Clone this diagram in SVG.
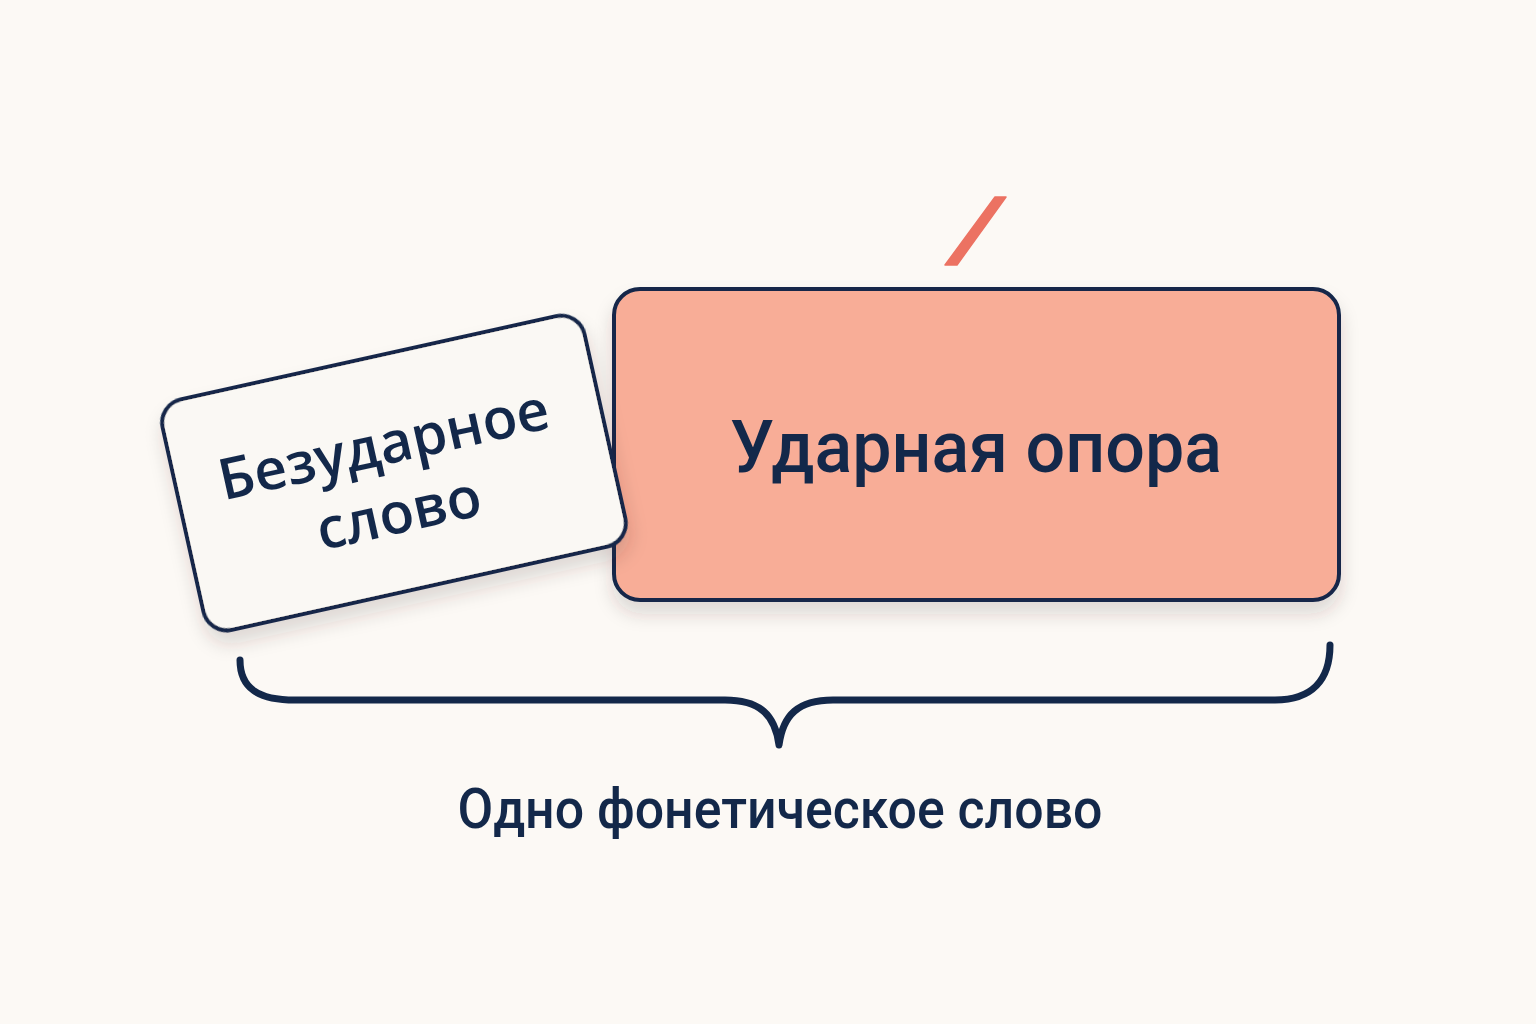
<svg xmlns="http://www.w3.org/2000/svg" width="1536" height="1024" viewBox="0 0 1536 1024">
<defs>
<filter id="sh" x="-20%" y="-20%" width="140%" height="160%">
<feDropShadow dx="0" dy="12" stdDeviation="9" flood-color="#3a3530" flood-opacity="0.16"/>
</filter>
<style>
.box{stroke:#13284a;stroke-width:4}
.lbl{fill:#13284a}
</style>
</defs>
<rect width="1536" height="1024" fill="#fcf9f5"/>
<g id="accent">
<polygon points="995,197 1006,197 957,265 945,265" fill="#ec7262" stroke="#ec7262" stroke-width="1.5" stroke-linejoin="round"/>
</g>
<g id="stressed">
<rect class="box" x="614" y="289" width="725" height="311" rx="26" fill="#f8ad97" filter="url(#sh)"/>
<text class="lbl" x="976" y="472" text-anchor="middle" font-family="Roboto, 'Liberation Sans', Arial, sans-serif" font-weight="500" font-size="72" textLength="492" lengthAdjust="spacingAndGlyphs">Ударная опора</text>
</g>
<g id="unstressed" transform="translate(394,473) rotate(-12.5)">
<rect class="box" x="-216" y="-118" width="432" height="236" rx="24" fill="#faf8f4" filter="url(#sh)"/>
<text class="lbl" x="-4" y="-10" text-anchor="middle" font-family="'Open Sans', 'Noto Sans', sans-serif" font-weight="600" font-size="57">Безударное</text>
<text class="lbl" x="-4" y="60" text-anchor="middle" font-family="'Open Sans', 'Noto Sans', sans-serif" font-weight="600" font-size="57">слово</text>
</g>
<g id="connectors">
<path d="M240,660 C240,688 258,700 295,700 L725,700 C760,700 775,715 779,745 C783,715 798,700 833,700 L1275,700 C1312,700 1330,680 1330,645" fill="none" stroke="#13284a" stroke-width="7" stroke-linecap="round" stroke-linejoin="round"/>
</g>
<g id="caption">
<text class="lbl" x="780" y="828" text-anchor="middle" font-family="Roboto, 'Liberation Sans', Arial, sans-serif" font-weight="500" font-size="56" textLength="645" lengthAdjust="spacingAndGlyphs">Одно фонетическое слово</text>
</g>
</svg>
